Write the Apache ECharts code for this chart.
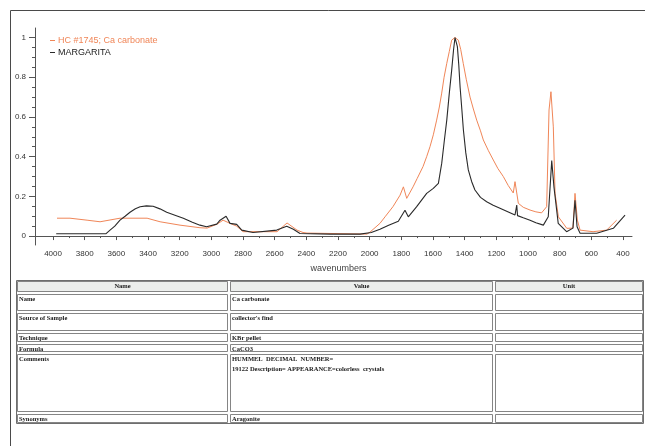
<!DOCTYPE html>
<html>
<head>
<meta charset="utf-8">
<script src="https://cdn.jsdelivr.net/npm/echarts@6/dist/echarts.min.js"></script>
<style>
  html, body { margin: 0; padding: 0; background: #fff; }
  #chart { width: 645px; height: 446px; }
</style>
</head>
<body>
<div id="chart"></div>
<script>
// ---- Spectrum data (wavenumber in cm-1, normalised absorbance) ----
const refName = 'HC #1745; Ca carbonate';
const refWavenumbers = [3975, 3893, 3785, 3703, 3577, 3406, 3324, 3198, 3072, 3027, 2964, 2926, 2914, 2882, 2840, 2800, 2585, 2522, 2459, 2421, 2396, 2017, 1998, 1935, 1900, 1853, 1808, 1787, 1766, 1726, 1700, 1663, 1640, 1619, 1598, 1577, 1560, 1545, 1530, 1513, 1497, 1482, 1470, 1461, 1450, 1440, 1425, 1409, 1390, 1366, 1345, 1324, 1300, 1282, 1250, 1219, 1190, 1156, 1125, 1093, 1082, 1061, 1030, 987, 950, 914, 882, 867, 855, 840, 829, 808, 755, 716, 703, 688, 671, 589, 503, 440];
const refAbsorbance  = [0.09, 0.09, 0.08, 0.072, 0.09, 0.09, 0.072, 0.055, 0.042, 0.04, 0.06, 0.08, 0.09, 0.064, 0.05, 0.022, 0.022, 0.066, 0.03, 0.018, 0.015, 0.01, 0.02, 0.064, 0.10, 0.148, 0.206, 0.248, 0.19, 0.248, 0.29, 0.35, 0.40, 0.45, 0.51, 0.584, 0.65, 0.72, 0.80, 0.87, 0.93, 0.987, 0.997, 1.0, 0.995, 0.987, 0.94, 0.87, 0.79, 0.70, 0.64, 0.584, 0.53, 0.484, 0.43, 0.383, 0.34, 0.30, 0.255, 0.217, 0.274, 0.165, 0.145, 0.131, 0.122, 0.117, 0.148, 0.635, 0.727, 0.55, 0.215, 0.097, 0.039, 0.04, 0.215, 0.08, 0.03, 0.022, 0.03, 0.08];

const sampleName = 'MARGARITA';
const sampleWavenumbers = [3980, 3665, 3640, 3610, 3577, 3545, 3514, 3480, 3450, 3410, 3368, 3325, 3282, 3230, 3177, 3120, 3072, 3030, 2966, 2945, 2907, 2882, 2840, 2808, 2737, 2587, 2524, 2482, 2440, 2250, 2061, 1990, 1935, 1880, 1819, 1808, 1777, 1756, 1703, 1640, 1598, 1566, 1545, 1530, 1513, 1497, 1482, 1470, 1461, 1453, 1446, 1437, 1429, 1418, 1408, 1393, 1377, 1356, 1335, 1300, 1261, 1220, 1177, 1082, 1071, 1066, 1030, 987, 950, 903, 872, 850, 836, 809, 756, 716, 703, 690, 671, 566, 461, 387];
const sampleAbsorbance  = [0.012, 0.012, 0.03, 0.05, 0.08, 0.10, 0.12, 0.138, 0.148, 0.152, 0.15, 0.137, 0.12, 0.105, 0.09, 0.07, 0.055, 0.047, 0.06, 0.08, 0.10, 0.064, 0.059, 0.03, 0.018, 0.03, 0.05, 0.034, 0.013, 0.01, 0.01, 0.018, 0.034, 0.055, 0.075, 0.08, 0.13, 0.097, 0.148, 0.215, 0.24, 0.265, 0.366, 0.47, 0.584, 0.72, 0.836, 0.94, 1.0, 0.99, 0.954, 0.86, 0.752, 0.64, 0.534, 0.42, 0.333, 0.275, 0.232, 0.195, 0.173, 0.155, 0.14, 0.106, 0.156, 0.103, 0.092, 0.08, 0.067, 0.055, 0.097, 0.38, 0.248, 0.064, 0.022, 0.04, 0.18, 0.047, 0.014, 0.014, 0.039, 0.106];

// ---- Axis ticks ----
const xTickLabels = [4000, 3800, 3600, 3400, 3200, 3000, 2800, 2600, 2400, 2200, 2000, 1800, 1600, 1400, 1200, 1000, 800, 600, 400];
const xMinorTicks = [3900, 3700, 3500, 3300, 3100, 2900, 2700, 2500, 2300, 2100, 1900, 1700, 1500, 1300, 1100, 900, 700, 500];
const yTickLabels = [0, 0.2, 0.4, 0.6, 0.8, 1];
const yMinorTicks = [0.05, 0.1, 0.15, 0.25, 0.3, 0.35, 0.45, 0.5, 0.55, 0.65, 0.7, 0.75, 0.85, 0.9, 0.95];
const xAxisTitle = 'wavenumbers';

// ---- Property table ----
const tableHeader = ['Name', 'Value', 'Unit'];
const propNames  = ['Name', 'Source of Sample', 'Technique', 'Formula', 'Comments', 'Synonyms'];
const propValues = ['Ca carbonate', "collector's find", 'KBr pellet', 'CaCO3',
                    'HUMMEL  DECIMAL  NUMBER=\n19122 Description= APPEARANCE=colorless  crystals', 'Aragonite'];
const propUnits  = ['', '', '', '', '', ''];

// Table layout (pixels)
const colEdges = [16, 229, 494, 644];
const rowEdges = [280, 293, 312, 332, 343, 353, 413, 424];

const zip = (xs, ys) => xs.map((x, i) => [x, ys[i]]);

const refColor = '#f08658';
const sampleColor = '#2a2a2a';
const tickFont = { fontFamily: 'Liberation Sans, Arial, sans-serif', fontSize: 8, color: '#333' };

// Build table graphics
const tableGraphics = [];
tableGraphics.push({
  type: 'rect', silent: true,
  shape: { x: colEdges[0] + 0.5, y: rowEdges[0] + 0.5, width: colEdges[3] - colEdges[0] - 1, height: rowEdges[rowEdges.length - 1] - rowEdges[0] - 1 },
  style: { fill: 'none', stroke: '#6e6e6e', lineWidth: 1 }
});
const rows = [tableHeader].concat(propNames.map((n, i) => [n, propValues[i], propUnits[i]]));
rows.forEach((row, r) => {
  const y0 = rowEdges[r], y1 = rowEdges[r + 1];
  row.forEach((txt, c) => {
    const x0 = colEdges[c], x1 = colEdges[c + 1];
    tableGraphics.push({
      type: 'rect', silent: true,
      shape: { x: x0 + 1.5, y: y0 + 1.5, width: x1 - x0 - 3, height: y1 - y0 - 3 },
      style: { fill: r === 0 ? '#eceeec' : 'none', stroke: '#858585', lineWidth: 1 }
    });
    if (txt) {
      tableGraphics.push({
        type: 'text', silent: true,
        x: r === 0 ? (x0 + x1) / 2 : x0 + 3,
        y: r === 0 ? (y0 + y1) / 2 : y0 + 1,
        style: {
          text: txt,
          fill: '#1a1a1a',
          font: 'bold 6.5px "Liberation Serif", "Times New Roman", serif',
          align: r === 0 ? 'center' : 'left',
          verticalAlign: r === 0 ? 'middle' : 'top',
          lineHeight: 10
        }
      });
    }
  });
});

const chart = echarts.init(document.getElementById('chart'), null, { renderer: 'canvas' });

const lineCommon = { type: 'line', xAxisIndex: 0, yAxisIndex: 0, showSymbol: false, smooth: false };

chart.setOption({
  animation: false,
  backgroundColor: '#fff',
  grid: { left: 35, right: 13, top: 28, bottom: 201, containLabel: false },
  legend: {
    orient: 'vertical',
    left: 45, top: 31,
    itemWidth: 5, itemHeight: 1, itemGap: 3,
    icon: 'rect',
    textStyle: { fontFamily: 'Liberation Sans, Arial, sans-serif', fontSize: 9, padding: [0, 0, 0, -2] },
    data: [
      { name: refName, textStyle: { color: refColor } },
      { name: sampleName, textStyle: { color: '#222' } }
    ]
  },
  xAxis: [
    {
      type: 'value', min: 343, max: 4114, inverse: true, position: 'bottom',
      name: xAxisTitle, nameLocation: 'middle', nameGap: 19,
      nameTextStyle: { fontFamily: 'Liberation Sans, Arial, sans-serif', fontSize: 9, color: '#444', padding: [0, 0, 0, 10] },
      axisLine: { lineStyle: { color: '#555', width: 1 } },
      axisTick: { customValues: xTickLabels, length: 4, lineStyle: { color: '#555' } },
      axisLabel: Object.assign({ customValues: xTickLabels, margin: 5, formatter: v => String(v) }, tickFont),
      splitLine: { show: false }
    },
    {
      type: 'value', min: 343, max: 4114, inverse: true, position: 'bottom',
      axisLine: { show: false },
      axisTick: { customValues: xMinorTicks, length: 2, lineStyle: { color: '#555' } },
      axisLabel: { show: false },
      splitLine: { show: false }
    }
  ],
  yAxis: [
    {
      type: 'value', min: -0.045, max: 1.048, position: 'left',
      axisLine: { show: true, lineStyle: { color: '#555', width: 1 } },
      axisTick: { show: true, customValues: yTickLabels, length: 6, lineStyle: { color: '#555' } },
      axisLabel: Object.assign({ customValues: yTickLabels, margin: 9, formatter: v => String(v) }, tickFont),
      splitLine: { show: false }
    },
    {
      type: 'value', min: -0.045, max: 1.048, position: 'left',
      axisLine: { show: false },
      axisTick: { show: true, customValues: yMinorTicks, length: 3, lineStyle: { color: '#555' } },
      axisLabel: { show: false },
      splitLine: { show: false }
    }
  ],
  series: [
    Object.assign({
      name: refName,
      data: zip(refWavenumbers, refAbsorbance),
      lineStyle: { color: refColor, width: 1 },
      itemStyle: { color: refColor }
    }, lineCommon),
    Object.assign({
      name: sampleName,
      data: zip(sampleWavenumbers, sampleAbsorbance),
      lineStyle: { color: sampleColor, width: 1.1 },
      itemStyle: { color: sampleColor }
    }, lineCommon)
  ],
  graphic: [
    {
      type: 'rect', silent: true, z: -1,
      shape: { x: 10.5, y: 10.5, width: 640, height: 450 },
      style: { fill: 'none', stroke: '#4a4a4a', lineWidth: 1 }
    }
  ].concat(tableGraphics)
});
</script>
</body>
</html>
